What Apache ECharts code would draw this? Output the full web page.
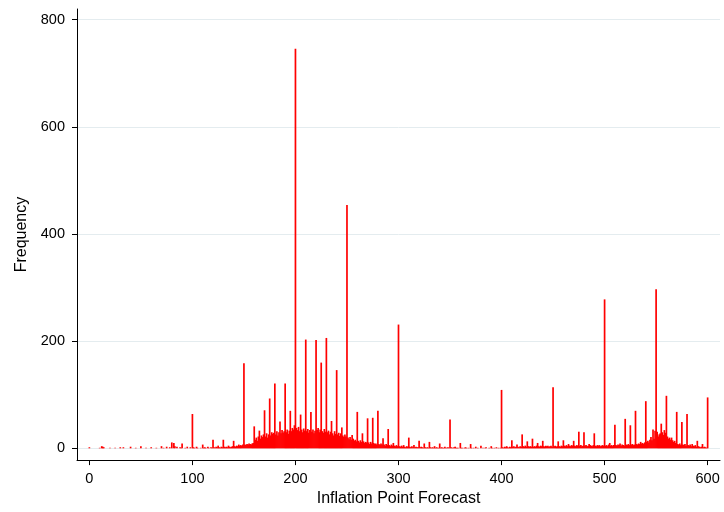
<!DOCTYPE html>
<html>
<head>
<meta charset="utf-8">
<script src="https://cdn.jsdelivr.net/npm/echarts@6/dist/echarts.min.js"></script>
<style>
  html, body { margin: 0; padding: 0; background: #fff; }
  #chart { width: 724px; height: 512px; }
</style>
</head>
<body>
<div id="chart"></div>
<script>
// frequency of each forecast value, one array per hundred (index = value - start)
var freq000 = [
  2, 0, 0, 0, 0, 0, 0, 0, 0, 0,
  1, 0, 4, 3, 2, 0, 0, 0, 0, 0,
  1, 0, 0, 0, 0, 1, 0, 0, 0, 0,
  2, 0, 0, 2, 0, 0, 0, 0, 0, 0,
  3, 0, 0, 0, 0, 1, 0, 0, 0, 0,
  4, 0, 0, 0, 0, 1, 0, 0, 0, 0,
  2, 0, 0, 0, 0, 1, 0, 0, 0, 0,
  4, 0, 1, 0, 0, 3, 0, 0, 2, 0,
  11, 0, 10, 4, 0, 3, 0, 0, 2, 1,
  9, 0, 0, 1, 0, 3, 0, 0, 2, 0
];
var freq100 = [
  64, 2, 1, 0, 3, 1, 0, 0, 1, 0,
  7, 1, 2, 1, 0, 3, 1, 0, 2, 1,
  16, 2, 1, 3, 2, 5, 2, 1, 3, 2,
  16, 3, 2, 3, 2, 5, 3, 2, 3, 4,
  14, 4, 3, 5, 4, 7, 5, 6, 5, 7,
  159, 7, 6, 8, 7, 9, 8, 7, 9, 10,
  41, 16, 20, 14, 22, 33, 18, 24, 21, 26,
  71, 22, 28, 20, 26, 93, 24, 30, 27, 29,
  121, 26, 32, 24, 30, 50, 28, 34, 29, 32,
  121, 30, 35, 27, 33, 70, 32, 38, 35, 43
];
var freq200 = [
  746, 38, 34, 40, 32, 63, 35, 30, 37, 33,
  203, 32, 36, 29, 34, 68, 31, 35, 28, 33,
  202, 34, 38, 30, 35, 160, 32, 29, 36, 31,
  206, 30, 33, 26, 31, 51, 28, 24, 32, 27,
  146, 26, 29, 23, 28, 39, 24, 21, 26, 22,
  454, 20, 17, 21, 16, 25, 18, 14, 16, 13,
  68, 14, 11, 15, 12, 28, 13, 10, 12, 11,
  56, 11, 8, 12, 9, 57, 10, 8, 9, 7,
  70, 8, 6, 9, 7, 19, 7, 5, 8, 6,
  36, 6, 4, 7, 5, 10, 5, 4, 6, 4
];
var freq300 = [
  231, 4, 3, 5, 3, 6, 3, 2, 4, 3,
  20, 3, 2, 4, 2, 6, 2, 3, 2, 2,
  14, 2, 3, 2, 1, 9, 2, 1, 2, 1,
  12, 2, 1, 2, 1, 4, 1, 2, 1, 1,
  9, 1, 2, 1, 1, 3, 1, 1, 2, 1,
  54, 2, 1, 1, 2, 3, 1, 1, 1, 0,
  10, 1, 1, 0, 1, 2, 1, 0, 1, 0,
  8, 1, 0, 1, 0, 3, 0, 1, 0, 0,
  5, 0, 1, 0, 1, 2, 0, 0, 1, 0,
  4, 1, 0, 1, 0, 2, 0, 1, 0, 1
];
var freq400 = [
  109, 2, 1, 3, 2, 4, 2, 1, 3, 2,
  15, 3, 4, 2, 3, 7, 3, 2, 4, 3,
  26, 4, 3, 5, 3, 13, 4, 3, 4, 3,
  18, 3, 4, 3, 5, 10, 4, 3, 5, 4,
  14, 4, 3, 5, 4, 5, 3, 4, 5, 3,
  114, 4, 5, 3, 4, 13, 4, 3, 5, 4,
  15, 5, 4, 6, 4, 8, 5, 4, 6, 5,
  14, 5, 4, 6, 5, 31, 5, 6, 4, 5,
  30, 5, 6, 4, 5, 8, 6, 5, 4, 6,
  28, 5, 4, 6, 5, 6, 4, 5, 6, 5
];
var freq500 = [
  278, 5, 6, 4, 7, 10, 5, 6, 4, 6,
  44, 6, 5, 7, 6, 9, 5, 7, 6, 5,
  55, 7, 6, 8, 6, 43, 7, 8, 6, 7,
  70, 8, 7, 9, 8, 12, 9, 10, 8, 11,
  88, 12, 14, 11, 16, 21, 15, 35, 18, 33,
  297, 31, 22, 26, 28, 46, 30, 25, 34, 29,
  98, 22, 18, 20, 16, 20, 15, 12, 14, 10,
  68, 8, 7, 9, 6, 49, 7, 6, 8, 5,
  64, 6, 5, 7, 4, 8, 5, 4, 6, 3,
  14, 4, 3, 2, 3, 8, 2, 3, 2, 1,
  95
];
var xTicks = [0, 100, 200, 300, 400, 500, 600];
var yTicks = [0, 200, 400, 600, 800];

var allFreq = [].concat(freq000, freq100, freq200, freq300, freq400, freq500);
var spikeData = [];
allFreq.forEach(function (v, i) {
  if (v > 0) spikeData.push([i, v]);
});

var chart = echarts.init(document.getElementById('chart'), null, { renderer: 'canvas' });
var font = 'Liberation Sans, Arial, Helvetica, sans-serif';
var option = {
  backgroundColor: '#ffffff',
  animation: false,
  grid: { left: 77, right: 4, top: 9, bottom: 47, containLabel: false },
  xAxis: {
    type: 'value',
    min: -12,
    max: 612,
    name: 'Inflation Point Forecast',
    nameLocation: 'middle',
    nameGap: 24,
    nameTextStyle: { color: '#000', fontSize: 16, fontFamily: font },
    axisLine: { show: true, onZero: false, lineStyle: { color: '#000', width: 1 } },
    axisTick: { show: true, length: 5, customValues: xTicks, lineStyle: { color: '#000' } },
    axisLabel: { color: '#000', fontSize: 14.5, fontFamily: font, margin: 11, customValues: xTicks },
    splitLine: { show: false }
  },
  yAxis: {
    type: 'value',
    min: -22,
    max: 820,
    name: 'Frequency',
    nameLocation: 'middle',
    nameGap: 43,
    nameTextStyle: { color: '#000', fontSize: 16, fontFamily: font },
    axisLine: { show: true, onZero: false, lineStyle: { color: '#000', width: 1 } },
    axisTick: { show: true, length: 5, customValues: yTicks, lineStyle: { color: '#000' } },
    axisLabel: { color: '#000', fontSize: 14.5, fontFamily: font, margin: 12, customValues: yTicks },
    splitLine: { show: true, lineStyle: { color: '#e4ecef', width: 1 } }
  },
  series: [
    {
      type: 'bar',
      data: spikeData,
      barWidth: 1.7,
      barGap: '-100%',
      itemStyle: { color: '#ff0000' },
      silent: true
    }
  ]
};
chart.setOption(option);
</script>
</body>
</html>
